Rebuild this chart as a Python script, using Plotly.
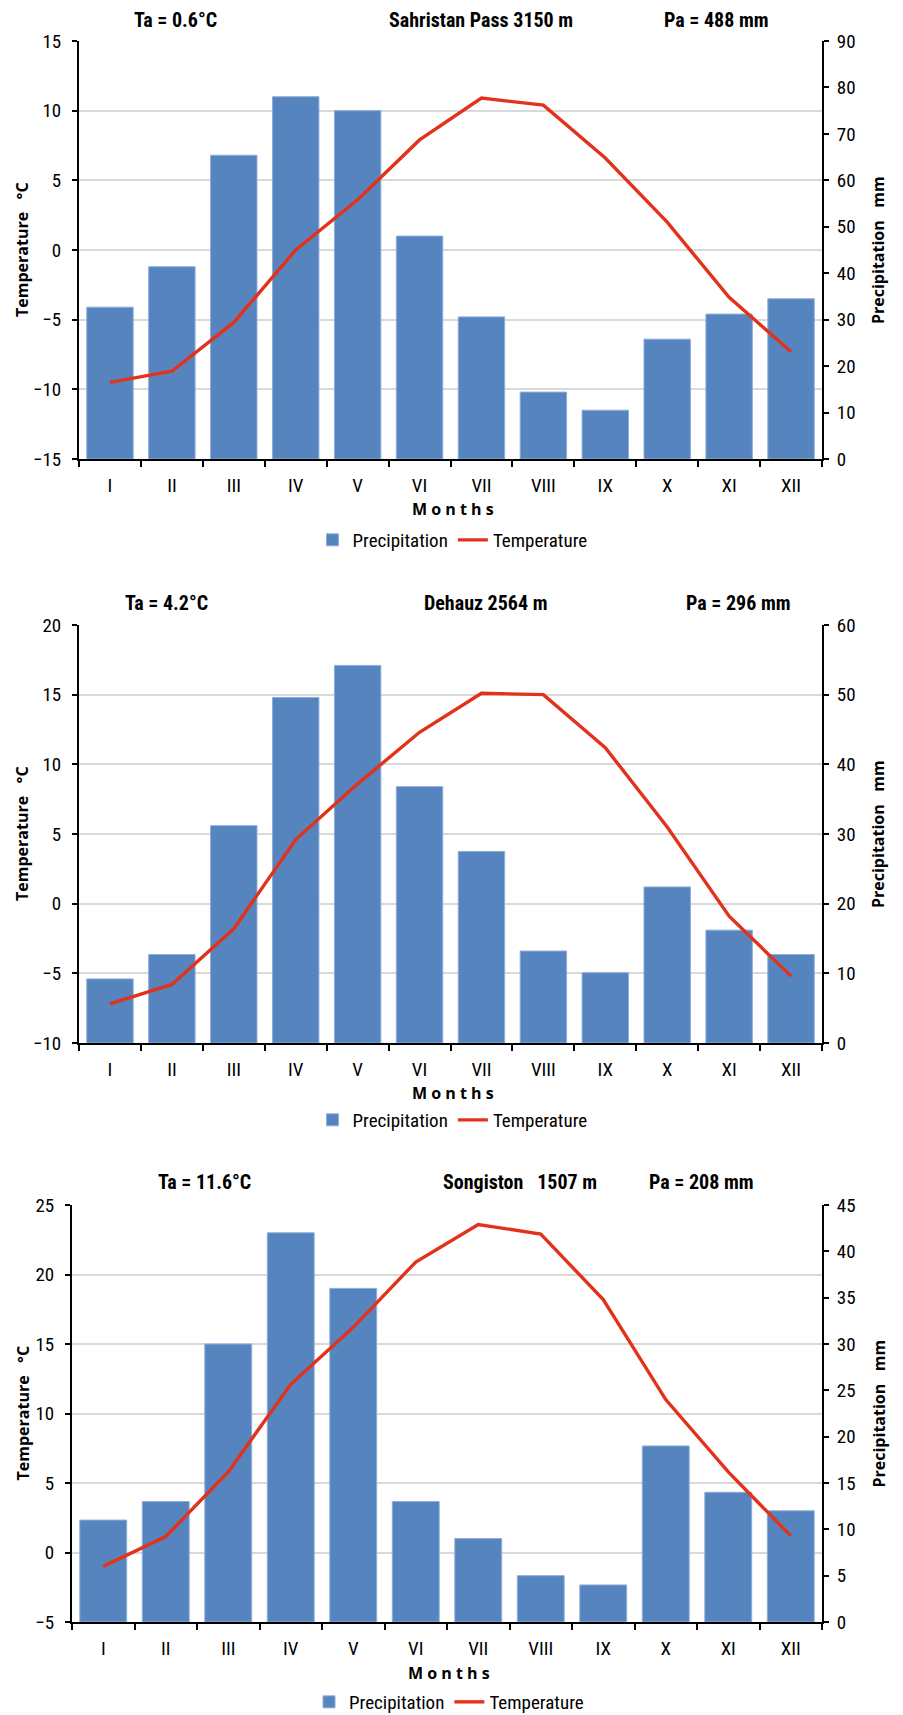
import plotly.graph_objects as go

months = ["I", "II", "III", "IV", "V", "VI", "VII", "VIII", "IX", "X", "XI", "XII"]

# Panel 1: Sahristan Pass
precip_1 = [32.7, 41.4, 65.4, 78.0, 75.0, 48.0, 30.6, 14.4, 10.5, 25.8, 31.2, 34.5]
temp_1 = [-9.5, -8.7, -5.2, 0.0, 3.6, 7.9, 10.9, 10.4, 6.6, 2.0, -3.4, -7.3]
title_1 = ["Ta = 0.6°C", "Sahristan Pass 3150 m", "Pa = 488 mm"]
trange_1 = [-15, 15]
prange_1 = [0, 90]
pstep_1 = 10

# Panel 2: Dehauz
precip_2 = [9.2, 12.7, 31.2, 49.6, 54.2, 36.8, 27.5, 13.2, 10.1, 22.4, 16.2, 12.7]
temp_2 = [-7.2, -5.8, -1.8, 4.6, 8.6, 12.3, 15.1, 15.0, 11.2, 5.5, -0.9, -5.2]
title_2 = ["Ta = 4.2°C", "Dehauz 2564 m", "Pa = 296 mm"]
trange_2 = [-10, 20]
prange_2 = [0, 60]
pstep_2 = 10

# Panel 3: Songiston
precip_3 = [11.0, 13.0, 30.0, 42.0, 36.0, 13.0, 9.0, 5.0, 4.0, 19.0, 14.0, 12.0]
temp_3 = [-1.0, 1.15, 5.8, 12.1, 16.2, 20.9, 23.6, 22.9, 18.2, 11.0, 5.8, 1.2]
title_3 = ["Ta = 11.6°C", "Songiston&nbsp;&nbsp; 1507 m", "Pa = 208 mm"]
trange_3 = [-5, 25]
prange_3 = [0, 45]
pstep_3 = 5

W, H = 903, 1715
NARROW = "Liberation Sans Narrow, Roboto Condensed, Arial Narrow, Roboto, sans-serif"
BOLDF = "Open Sans, DejaVu Sans, sans-serif"
BAR_C = "#5584BE"
LINE_C = "#E2321C"


def px(x):
    return x / W


def py(y):
    return 1 - y / H


panels = [
    dict(precip=precip_1, temp=temp_1, title=title_1, tr=trange_1, pr=prange_1, ps=pstep_1,
         x0=79, x1=822, y0=41, y1=459, tx=[175, 481, 716], ty=20, leg=540, months_y=509),
    dict(precip=precip_2, temp=temp_2, title=title_2, tr=trange_2, pr=prange_2, ps=pstep_2,
         x0=79, x1=822, y0=625, y1=1043, tx=[166, 486, 738], ty=603, leg=1120, months_y=1093),
    dict(precip=precip_3, temp=temp_3, title=title_3, tr=trange_3, pr=prange_3, ps=pstep_3,
         x0=72, x1=822, y0=1205, y1=1622, tx=[204, 520, 701], ty=1182, leg=1702, months_y=1673),
]

fig = go.Figure()
annotations = []
layout = dict(
    width=W, height=H, autosize=False,
    margin=dict(l=0, r=0, t=0, b=0, autoexpand=False),
    paper_bgcolor="white", plot_bgcolor="white",
    bargap=0.25,
    showlegend=True,
)

TICKF = dict(family=NARROW, size=19, color="black")

for i, p in enumerate(panels):
    n = i + 1
    xa = "x" if n == 1 else f"x{n}"
    pa_id = 2 * n - 1  # precipitation (base, right side)
    ta_id = 2 * n      # temperature (overlay, left side)
    pa = "y" if pa_id == 1 else f"y{pa_id}"
    ta = f"y{ta_id}"
    legname = "legend" if n == 1 else f"legend{n}"

    fig.add_trace(go.Bar(
        x=months, y=p["precip"], name="Precipitation", xaxis=xa, yaxis=pa,
        marker=dict(color=BAR_C, line=dict(color="#8DAEDB", width=1)),
        legend=legname,
    ))
    fig.add_trace(go.Scatter(
        x=months, y=p["temp"], name="Temperature", mode="lines", xaxis=xa, yaxis=ta,
        line=dict(color=LINE_C, width=3.4), legend=legname,
    ))

    xkey = "xaxis" if n == 1 else f"xaxis{n}"
    pkey = "yaxis" if pa_id == 1 else f"yaxis{pa_id}"
    tkey = f"yaxis{ta_id}"

    layout[xkey] = dict(
        domain=[px(p["x0"]), px(p["x1"])], anchor=pa, type="category",
        categoryorder="array", categoryarray=months,
        showline=True, linecolor="black", linewidth=2,
        ticks="outside", tickson="boundaries", ticklen=6, tickwidth=1.5, tickcolor="black",
        tickfont=TICKF, ticklabelstandoff=8,
        showgrid=False, zeroline=False, fixedrange=True, automargin=False,
    )
    layout[pkey] = dict(
        domain=[py(p["y1"]), py(p["y0"])], anchor=xa, side="right",
        range=p["pr"], dtick=p["ps"], tick0=0,
        showline=True, linecolor="black", linewidth=2,
        ticks="outside", ticklen=5, tickwidth=1.5, tickcolor="black",
        tickfont=TICKF, ticklabelstandoff=4,
        showgrid=False, zeroline=False, automargin=False,
    )
    layout[tkey] = dict(
        overlaying=pa, anchor=xa, side="left",
        range=p["tr"], dtick=5, tick0=0,
        showline=True, linecolor="black", linewidth=2,
        ticks="outside", ticklen=5, tickwidth=1.5, tickcolor="black",
        tickfont=TICKF, ticklabelstandoff=7,
        showgrid=True, gridcolor="#D9D9D9", gridwidth=1.5, zeroline=False, automargin=False,
    )
    layout[legname] = dict(
        x=px((p["x0"] + p["x1"]) / 2 + 2), xanchor="center",
        y=py(p["leg"]), yanchor="middle", orientation="h",
        font=dict(family=NARROW, size=19, color="black"),
        bgcolor="rgba(0,0,0,0)", itemwidth=30, tracegroupgap=0,
    )

    for t, tx in zip(p["title"], p["tx"]):
        annotations.append(dict(
            text=f"<b>{t}</b>", x=px(tx), y=py(p["ty"]), xref="paper", yref="paper",
            showarrow=False, xanchor="center", yanchor="middle",
            font=dict(family=NARROW, size=20, color="black"),
        ))
    ymid = (p["y0"] + p["y1"]) / 2
    annotations.append(dict(
        text="<b>Temperature&nbsp;&nbsp; °C</b>", x=px(22), y=py(ymid), xref="paper", yref="paper",
        showarrow=False, textangle=-90, xanchor="center", yanchor="middle",
        font=dict(family=BOLDF, size=16, color="black"),
    ))
    annotations.append(dict(
        text="<b>Precipitation&nbsp;&nbsp; mm</b>", x=px(878), y=py(ymid), xref="paper", yref="paper",
        showarrow=False, textangle=-90, xanchor="center", yanchor="middle",
        font=dict(family=BOLDF, size=16, color="black"),
    ))
    annotations.append(dict(
        text="<b>M o n t h s</b>", x=px((p["x0"] + p["x1"]) / 2 + 2), y=py(p["months_y"]),
        xref="paper", yref="paper", showarrow=False, xanchor="center", yanchor="middle",
        font=dict(family=BOLDF, size=16, color="black"),
    ))

layout["annotations"] = annotations
fig.update_layout(**layout)
fig.write_html(
    "out.html",
    config={"displayModeBar": False, "staticPlot": False},
    post_script="document.body.style.margin='0';document.body.style.overflow='hidden';",
)
